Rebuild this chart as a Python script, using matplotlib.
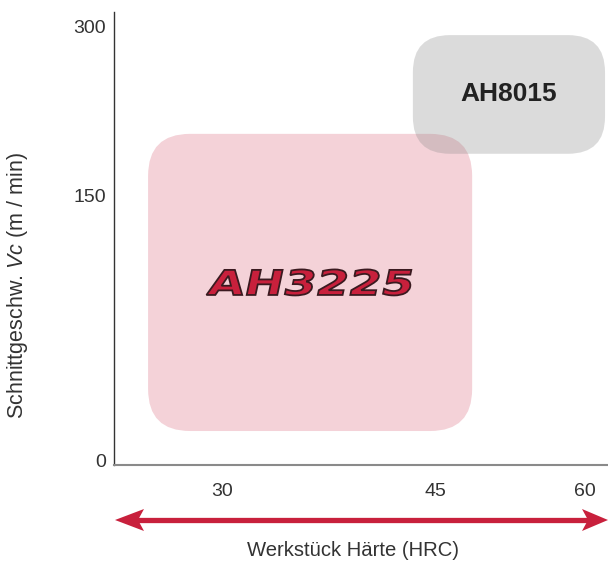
import numpy as np
import matplotlib
matplotlib.use('Agg')
import matplotlib.pyplot as plt
from matplotlib.patches import FancyBboxPatch, PathPatch, Polygon
from matplotlib.lines import Line2D
from matplotlib.textpath import TextPath
from matplotlib.font_manager import FontProperties
from matplotlib.transforms import Affine2D, IdentityTransform

plt.rcParams['font.family'] = ['Liberation Sans', 'DejaVu Sans']
plt.rcParams['mathtext.fontset'] = 'custom'
plt.rcParams['mathtext.rm'] = 'Liberation Sans'
plt.rcParams['mathtext.it'] = 'Liberation Sans:italic'

# schematic axis positions (0-100) and their labels
x_tick_pos = [21.9, 65.0, 95.3]
x_tick_lab = ['30', '45', '60']
y_tick_pos = [1.1, 59.4, 96.7]
y_tick_lab = ['0', '150', '300']

# grade application areas: x0, x1, y0, y1 in schematic units
grades = ['AH3225', 'AH8015']
box_x0 = [6.9, 60.5]
box_x1 = [72.5, 99.4]
box_y0 = [7.5, 68.7]
box_y1 = [73.1, 94.9]

W, H = 608, 564
fig = plt.figure(figsize=(W / 100, H / 100), dpi=100)
ax = fig.add_axes([114 / W, 99 / H, 494 / W, 453 / H])
ax.set_xlim(0, 100)
ax.set_ylim(0, 100)

for s in ['top', 'right']:
    ax.spines[s].set_visible(False)
ax.spines['left'].set_color('#333333')
ax.spines['left'].set_linewidth(1.0)
ax.spines['bottom'].set_color('#8a8a8a')
ax.spines['bottom'].set_linewidth(1.5)

ax.set_xticks(x_tick_pos)
ax.set_xticklabels(x_tick_lab)
ax.set_yticks(y_tick_pos)
ax.set_yticklabels(y_tick_lab)
ax.tick_params(axis='both', length=0, labelsize=14, labelcolor='#333333')
ax.tick_params(axis='x', pad=13)
ax.tick_params(axis='y', pad=6)

# pink box (AH3225)
pink = FancyBboxPatch((box_x0[0], box_y0[0]), box_x1[0] - box_x0[0], box_y1[0] - box_y0[0],
                      boxstyle='round,pad=0,rounding_size=8.5', mutation_aspect=494 / 453,
                      facecolor='#c8203c', alpha=0.2, edgecolor='none')
ax.add_patch(pink)

# grey box (AH8015)
grey = FancyBboxPatch((box_x0[1], box_y0[1]), box_x1[1] - box_x0[1], box_y1[1] - box_y0[1],
                      boxstyle='round,pad=0,rounding_size=7.5', mutation_aspect=494 / 453,
                      facecolor='#8a8a8a', alpha=0.3, edgecolor='none', clip_on=False)
ax.add_patch(grey)

ax.text((box_x0[1] + box_x1[1]) / 2, (box_y0[1] + box_y1[1]) / 2, grades[1],
        ha='center', va='center', fontsize=19, fontweight='bold', color='#222222')

# stylised AH3225 logo, stretched and skewed
fig.canvas.draw()
cx, cy = ax.transData.transform(((box_x0[0] + box_x1[0]) / 2, (box_y0[0] + box_y1[0]) / 2))
tp = TextPath((0, 0), grades[0], size=1, prop=FontProperties(family='DejaVu Sans', weight='bold'))
ext = tp.get_extents()
sx = 202 / ext.width
sy = 26 / ext.height
tr = (Affine2D().translate(-(ext.x0 + ext.x1) / 2, -(ext.y0 + ext.y1) / 2)
      .scale(sx, sy).skew_deg(12, 0).translate(cx, cy))
logo = PathPatch(tr.transform_path(tp), facecolor='#c8203c', edgecolor='#3a1a20',
                 linewidth=1.3, transform=IdentityTransform())
fig.patches.append(logo)

# axis labels
fig.text(18 / W, 1 - 285 / H, r'Schnittgeschw. $\it{Vc}$ (m / min)', rotation=90,
         ha='center', va='center', fontsize=15.5, color='#333333')
fig.text(353 / W, 1 - 551 / H, 'Werkstück Härte (HRC)',
         ha='center', va='center', fontsize=14.6, color='#333333')

# red double arrow with notched heads (pixel coordinates, y from top)
red = '#c8203c'
ay = 520
x_left, x_right = 115, 608
fig.lines.append(Line2D([(x_left + 20) / W, (x_right - 20) / W], [1 - ay / H, 1 - ay / H],
                        transform=fig.transFigure, color=red, linewidth=3.8))
head_l = [(x_left, ay), (x_left + 29, ay - 11), (x_left + 23, ay), (x_left + 29, ay + 11)]
head_r = [(x_right, ay), (x_right - 26, ay - 11), (x_right - 20, ay), (x_right - 26, ay + 11)]
for head in [head_l, head_r]:
    pts = [(px / W, 1 - py / H) for px, py in head]
    fig.patches.append(Polygon(pts, closed=True, transform=fig.transFigure,
                               facecolor=red, edgecolor='none'))

plt.savefig('out.png', dpi=100)
